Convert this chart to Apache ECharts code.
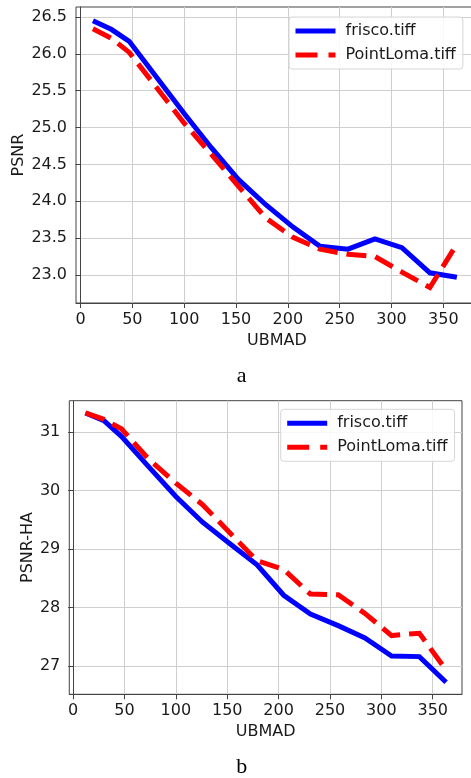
<!DOCTYPE html>
<html>
<head>
<meta charset="utf-8">
<script src="https://cdn.jsdelivr.net/npm/echarts@6/dist/echarts.min.js"></script>
<style>
html,body{margin:0;padding:0;background:#fff;}
#c{width:471px;height:778px;}
</style>
</head>
<body>
<div id="c"></div>
<script>
// ---- data ----
const ubmad = [12, 30, 47, 73, 100, 126, 152, 179, 205, 231, 258, 284, 310, 337, 363];
const psnrFrisco    = [26.45, 26.33, 26.17, 25.69, 25.19, 24.73, 24.30, 23.95, 23.65, 23.39, 23.35, 23.49, 23.37, 23.03, 22.97];
const psnrPointLoma = [26.34, 26.21, 26.02, 25.55, 25.06, 24.64, 24.21, 23.77, 23.51, 23.35, 23.28, 23.25, 23.04, 22.83, 23.42];
const haFrisco      = [31.33, 31.20, 30.93, 30.42, 29.90, 29.46, 29.10, 28.73, 28.21, 27.89, 27.69, 27.48, 27.17, 27.16, 26.72];
const haPointLoma   = [31.33, 31.22, 31.06, 30.55, 30.13, 29.76, 29.29, 28.80, 28.65, 28.23, 28.22, 27.90, 27.52, 27.56, 26.93];
const xTicks  = [0, 50, 100, 150, 200, 250, 300, 350];
const yTicksA = [23.0, 23.5, 24.0, 24.5, 25.0, 25.5, 26.0, 26.5];
const yTicksB = [27, 28, 29, 30, 31];
const seriesNames = ['frisco.tiff', 'PointLoma.tiff'];
const panelLabels = ['a', 'b'];

const pair = (xs, ys) => xs.map((x, i) => [x, ys[i]]);
const FONT = 'DejaVu Sans';
const TXT = '#1a1a1a';
const SPINE = '#444';
const GRIDC = '#cfcfcf';
const BLUE = '#0000ff';
const RED = '#ff0000';

function xAxis(gi, min, max) {
  return {
    type: 'value', gridIndex: gi, min: min, max: max,
    name: 'UBMAD', nameLocation: 'middle', nameGap: 30, nameMoveOverlap: false,
    nameTextStyle: {fontFamily: FONT, fontSize: 16, color: TXT},
    axisLine: {show: true, lineStyle: {color: SPINE, width: 1}},
    axisTick: {show: true, inside: false, length: 5, customValues: xTicks, lineStyle: {color: SPINE}},
    axisLabel: {customValues: xTicks, margin: 9, fontFamily: FONT, fontSize: 16, color: TXT},
    splitLine: {show: true, lineStyle: {color: GRIDC, width: 1}}
  };
}
function yAxis(gi, min, max, ticks, name, gap, dec) {
  return {
    type: 'value', gridIndex: gi, min: min, max: max,
    name: name, nameLocation: 'middle', nameGap: gap, nameRotate: 90, nameMoveOverlap: false,
    nameTextStyle: {fontFamily: FONT, fontSize: 16, color: TXT},
    axisLine: {show: true, lineStyle: {color: SPINE, width: 1}},
    axisTick: {show: true, inside: false, length: 5, customValues: ticks, lineStyle: {color: SPINE}},
    axisLabel: {customValues: ticks, margin: 9, fontFamily: FONT, fontSize: 16, color: TXT,
      formatter: v => v.toFixed(dec)},
    splitLine: {show: true, lineStyle: {color: GRIDC, width: 1}}
  };
}
function lineSeries(name, xi, yi, data, color, dashed) {
  return {
    type: 'line', name: name, xAxisIndex: xi, yAxisIndex: yi,
    data: data, symbol: 'none', showSymbol: false, silent: true,
    lineStyle: {color: color, width: 5, type: dashed ? [20, 9] : 'solid', cap: 'butt', join: 'miter'},
    itemStyle: {color: color}
  };
}
function legend(left, top) {
  return {
    data: [
      {name: seriesNames[0], lineStyle: {color: BLUE, width: 5, type: 'solid'}, itemStyle: {opacity: 0}},
      {name: seriesNames[1], lineStyle: {color: RED, width: 5, type: [22, 11]}, itemStyle: {opacity: 0}}
    ],
    orient: 'vertical', left: left, top: top,
    itemWidth: 40, itemHeight: 14, itemGap: 8,
    padding: [6, 7, 6, 4],
    lineStyle: {width: 5},
    itemStyle: {opacity: 0},
    backgroundColor: 'rgba(255,255,255,0.85)', borderColor: '#d6d6d6', borderWidth: 1, borderRadius: 3,
    textStyle: {fontFamily: FONT, fontSize: 16, color: TXT, padding: [0, 0, 0, 5]},
    selectedMode: false
  };
}

const chart = echarts.init(document.getElementById('c'), null, {renderer: 'canvas'});
chart.setOption({
  animation: false,
  backgroundColor: '#fff',
  grid: [
    {left: 76, top: 7, width: 402, height: 296, outerBoundsMode: 'none', containLabel: false,
      show: true, borderColor: SPINE, borderWidth: 1, backgroundColor: 'transparent'},
    {left: 69.3, top: 400.7, width: 392.7, height: 293.6, outerBoundsMode: 'none', containLabel: false,
      show: true, borderColor: SPINE, borderWidth: 1, backgroundColor: 'transparent'}
  ],
  xAxis: [xAxis(0, -4.34, 383.4), xAxis(1, -3.7, 378.5)],
  yAxis: [
    yAxis(0, 22.62, 26.636, yTicksA, 'PSNR', 49, 1),
    yAxis(1, 26.515, 31.54, yTicksB, 'PSNR-HA', 33, 0)
  ],
  legend: [legend(289, 17), legend(280.7, 409.3)],
  series: [
    lineSeries(seriesNames[0], 0, 0, pair(ubmad, psnrFrisco), BLUE, false),
    lineSeries(seriesNames[1], 0, 0, pair(ubmad, psnrPointLoma), RED, true),
    lineSeries(seriesNames[0], 1, 1, pair(ubmad, haFrisco), BLUE, false),
    lineSeries(seriesNames[1], 1, 1, pair(ubmad, haPointLoma), RED, true)
  ],
  graphic: [
    {type: 'text', x: 241.7, y: 376, style: {text: panelLabels[0], font: '22px "Liberation Serif"', fill: '#000', align: 'center', verticalAlign: 'middle'}},
    {type: 'text', x: 241.7, y: 767, style: {text: panelLabels[1], font: '22px "Liberation Serif"', fill: '#000', align: 'center', verticalAlign: 'middle'}}
  ]
});
</script>
</body>
</html>
